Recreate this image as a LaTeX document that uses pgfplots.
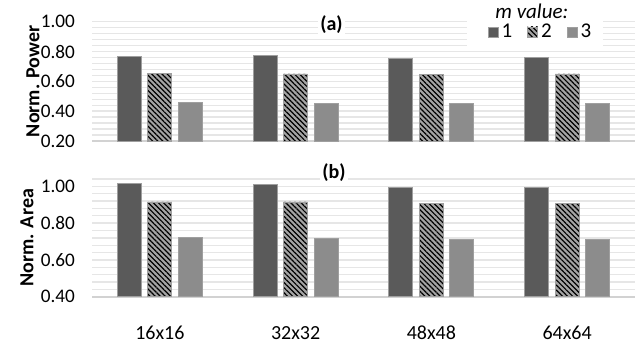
\documentclass[border=0pt]{standalone}
\usepackage{fontspec}
\setmainfont{Carlito}
\usepackage{pgfplots}
\usepackage{pgfplotstable}
\pgfplotsset{compat=1.18}
\usetikzlibrary{patterns.meta}

\definecolor{barA}{HTML}{5A5A5A}
\definecolor{barB}{HTML}{A4A4A4}
\definecolor{barC}{HTML}{8C8C8C}
\definecolor{gridc}{HTML}{E6E6E6}
\definecolor{basec}{HTML}{D2D2D2}

\pgfplotstableread{
x  m1    m2    m3
0  0.767 0.655 0.457
1  0.771 0.650 0.451
2  0.756 0.644 0.451
3  0.760 0.650 0.451
}\power

\pgfplotstableread{
x  m1    m2    m3
0  1.016 0.915 0.724
1  1.009 0.915 0.715
2  0.996 0.905 0.709
3  0.996 0.905 0.709
}\area

\pgfplotsset{
  panel/.style={
    scale only axis, width=271.5pt,
    xmin=-0.5, xmax=3.5, xtick={0,1,2,3},
    ybar=3.25pt, bar width=12pt,
    axis lines*=left,
    y axis line style={draw=none},
    x axis line style={draw=basec, line width=0.8pt},
    tick style={draw=none},
    ymajorgrids, yminorgrids,
    major grid style={draw=gridc, line width=0.7pt},
    minor grid style={draw=gridc, line width=0.7pt},
    yticklabel style={font=\fontsize{9.6}{11}\selectfont, xshift=-5pt},
    xticklabel style={font=\fontsize{10}{12}\selectfont, yshift=-7pt},
    /pgf/number format/fixed,
    /pgf/number format/fixed zerofill,
    /pgf/number format/precision=2,
    /pgf/number format/assume math mode=true,
    clip=false,
  },
  sA/.style={fill=barA, draw=gray!75, line width=0.4pt},
  sB/.style={fill=barB, draw=gray!75, line width=0.4pt,
    postaction={pattern={Lines[angle=-45,distance=1.8pt,line width=0.6pt]}, pattern color=black}},
  sC/.style={fill=barC, draw=gray!75, line width=0.4pt},
}

\begin{document}
\begin{tikzpicture}
\path[use as bounding box] (0,0) rectangle (320pt,180pt);

% (a) power
\begin{axis}[panel,
  at={(46pt,109.5pt)}, anchor=south west, height=59.65pt,
  ymin=0.2, ymax=1.0, ytick={0.2,0.4,0.6,0.8,1.0},
  minor ytick={0.24,0.28,0.32,0.36,0.44,0.48,0.52,0.56,0.64,0.68,0.72,0.76,0.84,0.88,0.92,0.96},
  xticklabels={},
  ylabel={Norm. Power},
  every axis y label/.style={at={([xshift=-29.5pt]axis description cs:0,0.5)}, rotate=90, anchor=center,
    font=\fontsize{10}{12}\selectfont\bfseries},
  legend columns=3,
  legend style={at={(axis description cs:0.827,0.914)}, anchor=center, draw=none, fill=none,
    font=\fontsize{10.5}{12}\selectfont, inner sep=0pt,
    nodes={inner sep=1.5pt},
    /tikz/every even column/.append style={column sep=6pt}},
  legend image code/.code={\draw[#1] (0pt,-2.5pt) rectangle (5pt,2.5pt);},
]
\addplot[sA] table[x=x,y=m1] {\power};
\addplot[sB] table[x=x,y=m2] {\power};
\addplot[sC] table[x=x,y=m3] {\power};
\legend{1,2,3}
\fill[white] (rel axis cs:0.6906,0.788) rectangle (rel axis cs:0.941,1.18);
\node[font=\fontsize{10.5}{12}\selectfont\itshape] at (rel axis cs:0.810,1.09) {m value:};
\node[fill=white, inner sep=1pt, font=\fontsize{10}{12}\selectfont\bfseries] at (rel axis cs:0.441,0.972) {(a)};
\end{axis}

% (b) area
\begin{axis}[panel,
  at={(46pt,31.65pt)}, anchor=south west, height=58.85pt,
  ymin=0.4, ymax=1.04, ytick={0.4,0.6,0.8,1.0},
  minor ytick={0.44,0.48,0.52,0.56,0.64,0.68,0.72,0.76,0.84,0.88,0.92,0.96,1.04},
  xticklabels={16x16,32x32,48x48,64x64},
  ylabel={Norm. Area},
  every axis y label/.style={at={([xshift=-32.5pt]axis description cs:0,0.5)}, rotate=90, anchor=center,
    font=\fontsize{10}{12}\selectfont\bfseries},
]
\addplot[sA] table[x=x,y=m1] {\area};
\addplot[sB] table[x=x,y=m2] {\area};
\addplot[sC] table[x=x,y=m3] {\area};
\node[fill=white, inner sep=1pt, font=\fontsize{10}{12}\selectfont\bfseries] at (rel axis cs:0.4457,1.051) {(b)};
\end{axis}
\end{tikzpicture}
\end{document}
